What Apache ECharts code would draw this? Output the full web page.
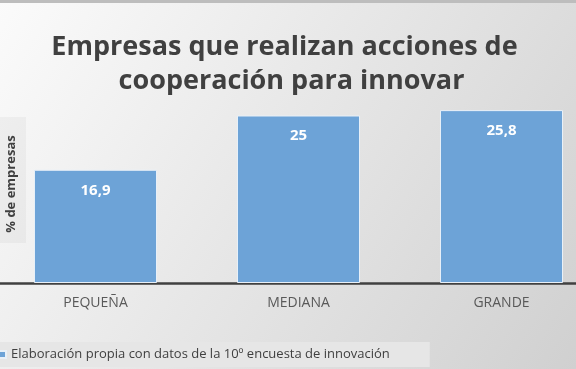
<!DOCTYPE html>
<html><head><meta charset="utf-8">
<script src="https://cdn.jsdelivr.net/npm/echarts@6/dist/echarts.min.js"></script>
<style>html,body{margin:0;padding:0;}#c{width:576px;height:369px;}</style>
</head><body><div id="c"></div>
<script>
var categories = ['PEQUEÑA', 'MEDIANA', 'GRANDE'];
var values = [16.9, 25, 25.8];
var valueLabels = ['16,9', '25', '25,8'];
var seriesName = 'Elaboración propia con datos de la 10º encuesta de innovación';
var titleText = 'Empresas que realizan acciones de \n cooperación para innovar';
var yName = '% de empresas';

var chart = echarts.init(document.getElementById('c'));
chart.setOption({
  backgroundColor: {type:'linear', x:0, y:0, x2:1, y2:1, colorStops:[{offset:0,color:'#fbfbfb'},{offset:1,color:'#d0d0d0'}]},
  animation: false,
  title: {
    text: titleText, left: 'center', top: 25,
    textStyle: {fontFamily: 'Open Sans', fontWeight: 'bold', fontSize: 27, color: '#404040', lineHeight: 34}
  },
  graphic: [
    {type:'rect', shape:{x:0, y:0, width:576, height:3}, style:{fill:'#bdbdbd'}},
    {type:'rect', shape:{x:0, y:117, width:26, height:126}, style:{fill:'rgba(0,0,0,0.035)'}},
    {type:'text', x:11, y:184, rotation: Math.PI/2, style:{text: yName, fill:'#404040', font:'bold 13px "Open Sans"', align:'center', verticalAlign:'middle'}}
  ],
  legend: {
    left: -2, bottom: 2, icon: 'rect', itemWidth: 7, itemHeight: 7, itemGap: 4,
    backgroundColor: '#e6e6e6', padding: [6, 40, 6, 0],
    textStyle: {color: '#404040', fontSize: 13, fontFamily: 'Open Sans'}
  },
  grid: {left: -6, width: 609, top: 82, bottom: 86, outerBoundsMode: 'none', containLabel: false},
  xAxis: {
    type: 'category', data: categories,
    axisLine: {lineStyle: {color: '#404040', width: 2.5}},
    axisTick: {show: false},
    axisLabel: {color: '#595959', fontSize: 14, margin: 13, fontFamily: 'Open Sans'}
  },
  yAxis: {type: 'value', min: 0, max: 30, show: false},
  series: [{
    name: seriesName, type: 'bar', data: values, barWidth: '60.6%',
    itemStyle: {color: '#6da3d7', borderColor: '#e8f0f8', borderWidth: 1},
    label: {show: true, position: 'insideTop', distance: 13, color: '#fff', fontWeight: 'bold', fontSize: 15, fontFamily: 'Open Sans',
      formatter: function(p){ return valueLabels[p.dataIndex]; }}
  }]
});
</script></body></html>
